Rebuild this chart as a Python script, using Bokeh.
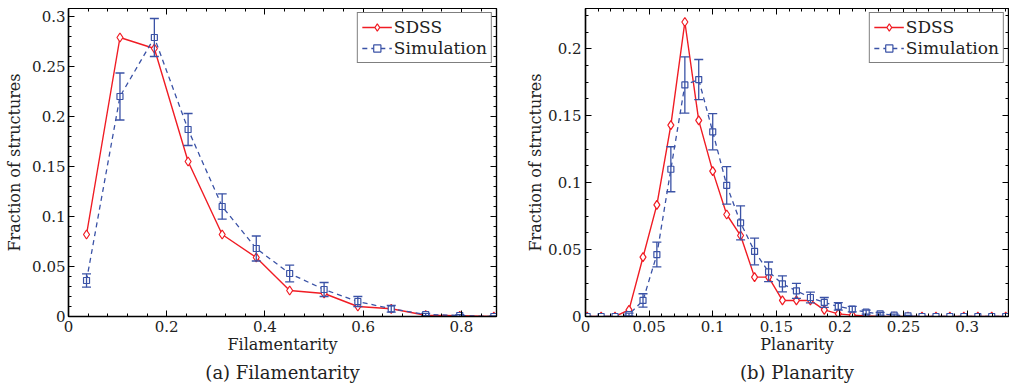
from bokeh.plotting import figure
from bokeh.layouts import row
from bokeh.models import (Range1d, LinearAxis, SingleIntervalTicker, CustomJSTickFormatter,
                          Whisker, TeeHead, ColumnDataSource, Title)
from bokeh.embed import file_html
from bokeh.resources import INLINE

# ---------------- data: (a) Filamentarity ----------------
fil_x = [0.0367, 0.1048, 0.1748, 0.2435, 0.3129, 0.3823, 0.4503, 0.5204, 0.5891, 0.6571, 0.7272, 0.7966, 0.8660]
fil_sdss = [0.082, 0.279, 0.268, 0.155, 0.082, 0.059, 0.026, 0.023, 0.010, 0.0077, 0.0013, 0.0007, 0.0]
fil_sim = [0.036, 0.220, 0.279, 0.187, 0.110, 0.068, 0.043, 0.027, 0.015, 0.0077, 0.002, 0.001, 0.0]
fil_sim_err = [0.0067, 0.0235, 0.019, 0.016, 0.0127, 0.0125, 0.0083, 0.007, 0.005, 0.0033, 0.0012, 0.0008, 0.0005]

# ---------------- data: (b) Planarity ----------------
pla_x = [0.0013, 0.0123, 0.0232, 0.0342, 0.0452, 0.0561, 0.0671, 0.0781, 0.0890, 0.1000,
         0.1110, 0.1219, 0.1329, 0.1439, 0.1548, 0.1658, 0.1768, 0.1877, 0.1987, 0.2097,
         0.2206, 0.2316, 0.2426, 0.2535, 0.2645, 0.2755, 0.2864, 0.2974, 0.3084, 0.3193, 0.3303]
pla_sdss = [0.0, 0.0, 0.0, 0.005, 0.0443, 0.0834, 0.143, 0.220, 0.1465, 0.1086,
            0.0762, 0.0605, 0.0294, 0.0294, 0.012, 0.012, 0.012, 0.005, 0.002, 0.001,
            0.0005, 0.0, 0.0, 0.0, 0.0, 0.0, 0.0, 0.0, 0.0, 0.0, 0.0]
pla_sim = [0.0, 0.0, 0.0, 0.0015, 0.012, 0.0463, 0.110, 0.173, 0.177, 0.138,
           0.098, 0.070, 0.0486, 0.0334, 0.0244, 0.0192, 0.0142, 0.0105, 0.0075, 0.0055,
           0.0032, 0.002, 0.001, 0.0005, 0.0, 0.0, 0.0, 0.0, 0.0, 0.0, 0.0]
pla_sim_err = [0.0, 0.0, 0.0, 0.001, 0.005, 0.0093, 0.0168, 0.021, 0.015, 0.0135,
               0.014, 0.0127, 0.010, 0.0073, 0.006, 0.0056, 0.004, 0.0037, 0.0028, 0.002,
               0.0015, 0.001, 0.0007, 0.0004, 0.0, 0.0, 0.0, 0.0, 0.0, 0.0, 0.0]

series_names = ["SDSS", "Simulation"]
y_label = "Fraction of structures"

RED = "#f01c24"
BLUE = "#3a52a6"
FONT = "DejaVu Serif"

FMT = "return (Math.round(tick*1000)/1000).toString();"


def make_panel(xs, sdss, sim, err, x_end, y_end, x_int, y_int, x_minor, y_minor,
               xlabel, caption, fw, min_left, min_right, ylab_standoff, ytick_standoff):
    p = figure(frame_width=fw, frame_height=308, output_backend="svg", toolbar_location=None,
               x_range=Range1d(0, x_end), y_range=Range1d(0, y_end),
               min_border_left=min_left, min_border_right=min_right,
               min_border_top=8, min_border_bottom=0)
    p.xgrid.visible = False
    p.ygrid.visible = False
    p.outline_line_color = "black"
    p.outline_line_width = 1.2
    p.background_fill_color = "white"
    p.border_fill_color = "white"

    xt = SingleIntervalTicker(interval=x_int, num_minor_ticks=x_minor)
    yt = SingleIntervalTicker(interval=y_int, num_minor_ticks=y_minor)
    p.xaxis.ticker = xt
    p.yaxis.ticker = yt
    p.xaxis.formatter = CustomJSTickFormatter(code=FMT)
    p.yaxis.formatter = CustomJSTickFormatter(code=FMT)

    for ax in (p.xaxis[0], p.yaxis[0]):
        ax.major_tick_in = 6
        ax.major_tick_out = 0
        ax.minor_tick_in = 3
        ax.minor_tick_out = 0
        ax.axis_line_color = "black"
        ax.axis_line_width = 1.5
        ax.major_tick_line_color = "black"
        ax.minor_tick_line_color = "black"
        ax.major_label_text_font = FONT
        ax.major_label_text_font_size = "15px"
        ax.major_label_text_color = "#222222"
        ax.axis_label_text_font = FONT
        ax.axis_label_text_font_size = "16px"
        ax.axis_label_text_font_style = "normal"
        ax.axis_label_text_color = "#222222"

    p.xaxis.axis_label = xlabel
    p.xaxis.major_label_standoff = 4
    p.xaxis.axis_label_standoff = 0
    p.yaxis.axis_label = y_label
    p.yaxis.major_label_standoff = ytick_standoff
    p.yaxis.axis_label_standoff = ylab_standoff

    # mirrored tick marks on top and right
    for side, tk in (("above", xt), ("right", yt)):
        ax = LinearAxis(ticker=tk, formatter=CustomJSTickFormatter(code="return '';"),
                        major_label_text_font_size="0px", major_label_standoff=0,
                        axis_label_standoff=0,
                        major_tick_in=6, major_tick_out=0, minor_tick_in=3, minor_tick_out=0,
                        axis_line_color="black", axis_line_width=1.2)
        p.add_layout(ax, side)

    # SDSS
    p.line(xs, sdss, line_color=RED, line_width=1.4, legend_label=series_names[0])
    p.scatter(xs, sdss, marker="diamond", size=9, line_color=RED, fill_color="white",
              line_width=1.2, legend_label=series_names[0])

    # Simulation with error bars
    ex = [x for x, e in zip(xs, err) if e > 0]
    ey = [y for y, e in zip(sim, err) if e > 0]
    ee = [e for e in err if e > 0]
    src = ColumnDataSource(dict(x=ex, upper=[y + e for y, e in zip(ey, ee)],
                                lower=[y - e for y, e in zip(ey, ee)]))
    wh = Whisker(source=src, base="x", upper="upper", lower="lower",
                 line_color=BLUE, line_width=1.3, level="glyph",
                 upper_head=TeeHead(size=9, line_color=BLUE, line_width=1.3),
                 lower_head=TeeHead(size=9, line_color=BLUE, line_width=1.3))
    p.add_layout(wh)
    p.line(xs, sim, line_color=BLUE, line_width=1.3, line_dash="5 4",
           legend_label=series_names[1])
    p.scatter(xs, sim, marker="square", size=6, line_color=BLUE, fill_color="white",
              line_width=1.2, legend_label=series_names[1])

    lg = p.legend[0]
    lg.location = "top_right"
    lg.margin = 4
    lg.padding = 4
    lg.spacing = 1
    lg.border_line_color = "black"
    lg.border_line_width = 1.5
    lg.background_fill_color = "white"
    lg.background_fill_alpha = 1
    lg.label_text_font = FONT
    lg.label_text_font_size = "17px"
    lg.label_text_color = "#222222"
    lg.glyph_width = 30
    lg.glyph_height = 18
    lg.label_height = 18
    lg.label_standoff = 2

    cap = Title(text=caption, align="center", text_font=FONT, text_font_size="18px",
                text_font_style="normal", text_color="#222222", standoff=7)
    p.add_layout(cap, "below")
    return p


p1 = make_panel(fil_x, fil_sdss, fil_sim, fil_sim_err, 0.8714, 0.308, 0.2, 0.05, 5, 5,
                "Filamentarity", "(a) Filamentarity", 428, 68, 26, 5, 3)
p2 = make_panel(pla_x, pla_sdss, pla_sim, pla_sim_err, 0.3325, 0.2301, 0.05, 0.05, 5, 4,
                "Planarity", "(b) Planarity", 423, 63, 1, 0, 4)

layout = row(p1, p2)
open("out.html", "w").write(file_html(layout, INLINE))
